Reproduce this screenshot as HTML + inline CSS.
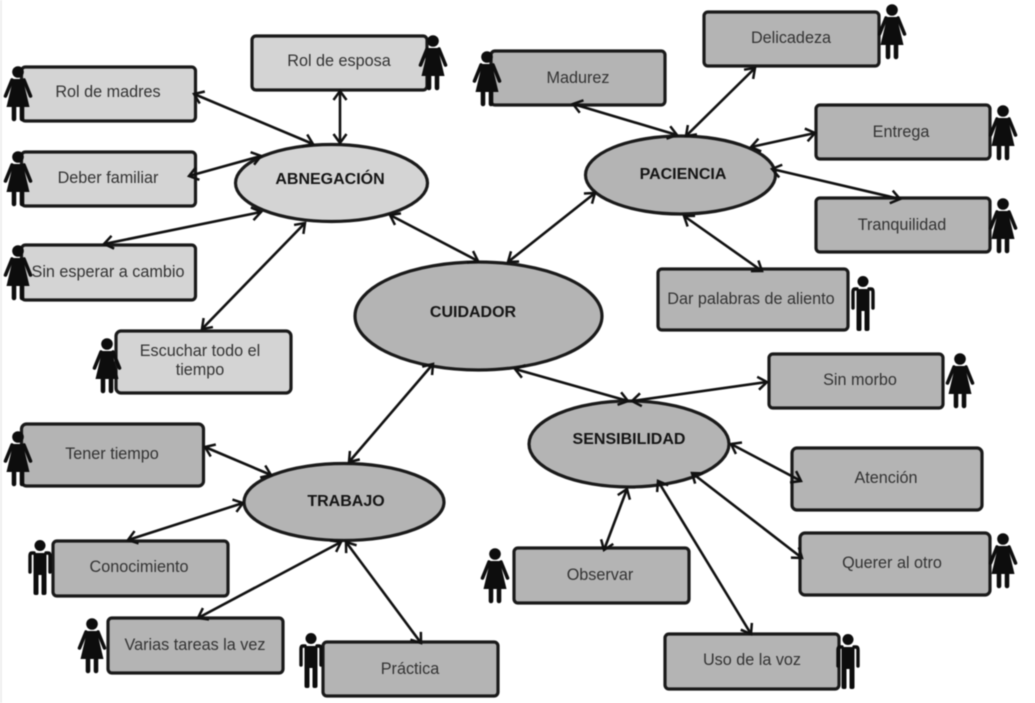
<!DOCTYPE html>
<html><head><meta charset="utf-8"><style>
html,body{margin:0;padding:0;background:#fff}
svg{display:block;filter:blur(.5px)}
text{font-family:"Liberation Sans",sans-serif;font-size:16.2px;fill:#333;text-anchor:middle}
.b{font-weight:bold;fill:#151515;font-size:16px}
.a{stroke:#111;stroke-width:2.6;fill:none;marker-start:url(#m);marker-end:url(#m)}
.r{stroke:#1a1a1a;stroke-width:3.2;fill:#b4b4b4}
.q{stroke:#1a1a1a;stroke-width:3.2;fill:#d4d4d4}
</style></head><body>
<svg width="1035" height="703" viewBox="0 0 1035 703" xmlns="http://www.w3.org/2000/svg">
<defs>
<marker id="m" markerWidth="16" markerHeight="16" refX="12" refY="8" orient="auto-start-reverse" markerUnits="userSpaceOnUse"><path d="M3 1.500 L12 8 L3 14.500" fill="none" stroke="#111" stroke-width="2.5"/></marker>
<symbol id="w" overflow="visible">
<circle cx="0" cy="6" r="5.800" fill="#0d0d0d"/>
<path d="M-5.500 13 H5.500 L7 22 L11.500 41 H-11.500 L-7 22 Z" fill="#0d0d0d"/>
<path d="M-6 14 L-12.500 30 M6 14 L12.500 30" stroke="#0d0d0d" stroke-width="3.600" stroke-linecap="round" fill="none"/>
<path d="M-4 40 V53 M4 40 V53" stroke="#0d0d0d" stroke-width="4.600" stroke-linecap="round" fill="none"/>
</symbol>
<symbol id="h" overflow="visible">
<circle cx="0" cy="5.500" r="5.500" fill="#0d0d0d"/>
<path d="M-6.500 13 H6.500 V53 Q6.500 55 4.500 55 H3 Q1.500 55 1.500 53 V35 H-1.500 V53 Q-1.500 55 -3 55 H-4.500 Q-6.500 55 -6.500 53 Z" fill="#0d0d0d"/>
<path d="M-6 13 H-8 Q-10 13 -10 16 V32 M6 13 H8 Q10 13 10 16 V32" stroke="#0d0d0d" stroke-width="3.400" stroke-linecap="round" fill="none"/>
</symbol>
</defs>
<rect x="0" y="0" width="2" height="703" fill="#efefef"/>

<rect class="q" x="21.500" y="67" width="174" height="54" rx="4"/><text x="108" y="97">Rol de madres</text>
<rect class="q" x="252" y="36" width="175" height="54" rx="4"/><text x="339" y="66">Rol de esposa</text>
<rect class="q" x="21.500" y="152" width="174" height="54" rx="4"/><text x="108" y="183">Deber familiar</text>
<rect class="q" x="21.500" y="245" width="174" height="55" rx="4"/><text x="108" y="277">Sin esperar a cambio</text>
<rect class="q" x="116" y="331" width="175" height="62" rx="5"/><text x="200" y="356">Escuchar todo el</text><text x="200" y="375">tiempo</text>

<rect class="r" x="491" y="51" width="174" height="54" rx="4"/><text x="578" y="83">Madurez</text>
<rect class="r" x="704" y="12" width="175" height="54" rx="4"/><text x="791" y="43">Delicadeza</text>
<rect class="r" x="816" y="105" width="174" height="54" rx="4"/><text x="901" y="137">Entrega</text>
<rect class="r" x="816" y="198" width="174" height="54" rx="4"/><text x="902" y="230">Tranquilidad</text>
<rect class="r" x="658" y="269" width="190" height="61" rx="4"/><text x="751" y="304">Dar palabras de aliento</text>

<rect class="r" x="769" y="354" width="174" height="54" rx="4"/><text x="860" y="385">Sin morbo</text>
<rect class="r" x="792" y="448" width="190" height="62" rx="5"/><text x="886" y="483">Atención</text>
<rect class="r" x="800" y="533" width="190" height="62" rx="5"/><text x="892" y="568">Querer al otro</text>
<rect class="r" x="514" y="548" width="175" height="55" rx="4"/><text x="600" y="580">Observar</text>
<rect class="r" x="665" y="634" width="174" height="55" rx="4"/><text x="752" y="665">Uso de la voz</text>

<rect class="r" x="21.500" y="424" width="182" height="62" rx="5"/><text x="112" y="459">Tener tiempo</text>
<rect class="r" x="53" y="541" width="175" height="55" rx="4"/><text x="139" y="572">Conocimiento</text>
<rect class="r" x="108" y="618" width="175" height="55" rx="4"/><text x="195" y="650">Varias tareas la vez</text>
<rect class="r" x="323" y="642" width="175" height="54" rx="4"/><text x="410" y="674">Práctica</text>

<ellipse class="q" cx="331.500" cy="183" rx="96" ry="38.500"/><text class="b" x="330" y="184">ABNEGACIÓN</text>
<ellipse class="r" cx="680.500" cy="175" rx="95" ry="39"/><text class="b" x="683" y="179">PACIENCIA</text>
<ellipse class="r" cx="478.500" cy="316" rx="123.500" ry="54"/><text class="b" x="473" y="317">CUIDADOR</text>
<ellipse class="r" cx="629" cy="444" rx="100" ry="43"/><text class="b" x="629" y="444">SENSIBILIDAD</text>
<ellipse class="r" cx="344" cy="502" rx="100" ry="38.500"/><text class="b" x="346" y="506">TRABAJO</text>

<line class="a" x1="194" y1="94" x2="313" y2="144"/>
<line class="a" x1="340" y1="91" x2="340" y2="143"/>
<line class="a" x1="189" y1="176" x2="261" y2="156"/>
<line class="a" x1="104" y1="244" x2="261" y2="212"/>
<line class="a" x1="202" y1="329" x2="305" y2="223"/>
<line class="a" x1="390" y1="215" x2="478" y2="261"/>
<line class="a" x1="508" y1="262" x2="595" y2="193"/>
<line class="a" x1="573" y1="104" x2="677" y2="135"/>
<line class="a" x1="755" y1="68" x2="686" y2="136"/>
<line class="a" x1="751" y1="147" x2="815" y2="133"/>
<line class="a" x1="772" y1="169" x2="900" y2="199"/>
<line class="a" x1="684" y1="216" x2="762" y2="271"/>
<line class="a" x1="515" y1="369" x2="628" y2="401"/>
<line class="a" x1="632" y1="401" x2="767" y2="382"/>
<line class="a" x1="731" y1="444" x2="801" y2="481"/>
<line class="a" x1="692" y1="473" x2="802" y2="558"/>
<line class="a" x1="658" y1="481" x2="751" y2="634"/>
<line class="a" x1="627" y1="489" x2="604" y2="550"/>
<line class="a" x1="433" y1="364" x2="349" y2="462"/>
<line class="a" x1="205" y1="447" x2="271" y2="475"/>
<line class="a" x1="128" y1="540" x2="243" y2="503"/>
<line class="a" x1="198" y1="618" x2="341" y2="542"/>
<line class="a" x1="346" y1="542" x2="421" y2="643"/>

<use href="#w" x="18" y="66"/>
<use href="#w" x="433" y="35"/>
<use href="#w" x="18" y="151"/>
<use href="#w" x="18" y="245"/>
<use href="#w" x="107" y="338"/>
<use href="#w" x="487" y="51"/>
<use href="#w" x="892" y="4"/>
<use href="#w" x="1003" y="105"/>
<use href="#w" x="1003" y="198"/>
<use href="#h" x="863" y="276"/>
<use href="#w" x="960" y="353"/>
<use href="#w" x="1003" y="533"/>
<use href="#w" x="495" y="548"/>
<use href="#h" x="848" y="634"/>
<use href="#w" x="18" y="431"/>
<use href="#h" x="40" y="540"/>
<use href="#w" x="92" y="618"/>
<use href="#h" x="311" y="633"/>
</svg>
</body></html>
